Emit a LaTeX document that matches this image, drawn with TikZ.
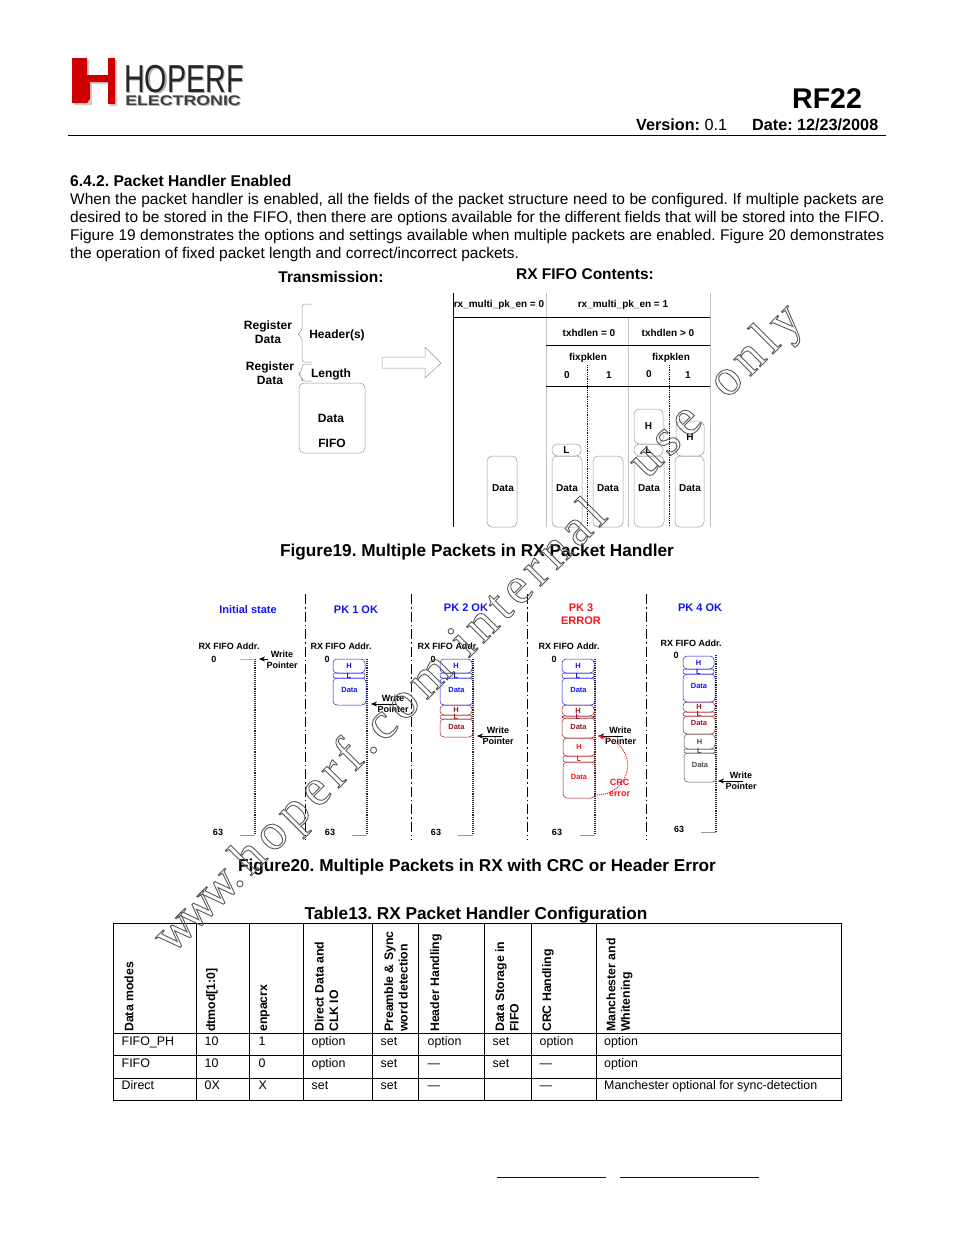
\documentclass[tikz,border=0pt]{standalone}
\usepackage{fontspec}
\setmainfont{Liberation Sans}
\newfontfamily\wmfont[LetterSpace=11]{Liberation Serif}
\usetikzlibrary{arrows.meta, positioning}
\definecolor{pkblue}{RGB}{20,20,240}
\definecolor{pkdark}{RGB}{160,20,30}
\definecolor{pkred}{RGB}{250,20,30}
\definecolor{boxgray}{RGB}{150,150,150}
\newcommand{\fsz}[2]{\fontsize{#1}{#2}\selectfont}

\begin{document}
\frenchspacing
\begin{tikzpicture}[
  x=1pt, y=-1pt,
  txt/.style={inner sep=0pt, anchor=base west},
  ctr/.style={inner sep=0pt, align=center},
  body/.style={txt, font=\fsz{15.5}{18}},
  bhead/.style={ctr, font=\fsz{15.5}{18}\bfseries},
  figcap/.style={ctr, font=\fsz{17.2}{19}\bfseries},
  fig/.style={ctr, font=\fsz{12}{14}\bfseries},
  tiny/.style={ctr, font=\fsz{10}{11}\bfseries},
  small/.style={ctr, font=\fsz{9}{11}\bfseries},
  stage/.style={ctr, font=\fsz{11}{13}\bfseries},
  lbl/.style={ctr, font=\fsz{7.5}{8}\bfseries},
  thd/.style={inner sep=0pt, anchor=west, rotate=90, align=left, font=\fsz{12.3}{14.5}\bfseries},
  cell/.style={txt, font=\fsz{12.4}{14}},
  gbox/.style={draw=boxgray, line width=0.5pt, rounded corners=5pt},
  pkt/.style={line width=0.5pt, rounded corners=4pt},
  lcell/.style={line width=0.5pt, rounded corners=2pt},
  brc/.style={draw=boxgray, line width=0.5pt, rounded corners=3pt},
  gline/.style={draw=boxgray!60, line width=0.6pt},
  tabline/.style={draw=black, line width=0.9pt},
  sepline/.style={draw=black, line width=1pt, dash pattern=on 10pt off 3pt on 1.5pt off 3pt},
  fifo/.style={draw=black!85, line width=1.1pt, densely dotted},
  fifobase/.style={draw=boxgray, line width=0.7pt},
  arr/.style={-{Stealth[length=6pt, width=5pt]}, line width=0.9pt}
]
\useasboundingbox (0,0) rectangle (954,1235);

% header
\fill[black!20] (74,60) -- (89,60) -- (89,77) -- (110,77) -- (110,60) -- (117,60) -- (117,106) -- (110,106) -- (110,84) -- (92,84) -- (92,105) -- (74,105) -- cycle;
\fill[red!80!black] (72,58) -- (87,58) -- (87,75) -- (108,75) -- (108,58) -- (115,58) -- (115,104) -- (108,104) -- (108,82) -- (90,82) -- (90,99) -- (87,103) -- (72,103) -- cycle;
\node[txt, font=\fsz{39}{40}, text=black!30, xscale=0.735] (hoperfs) at (125.5,93.5) {HOPERF};
\node[txt, font=\fsz{39}{40}, text=black!85, xscale=0.735] (hoperf) at (124,92) {HOPERF};
\node[txt, font=\fsz{14}{16}\bfseries, text=black!30, xscale=1.27] (electronics) at (126,106) {ELECTRONIC};
\node[txt, font=\fsz{14}{16}\bfseries, text=black!75, xscale=1.27] (electronic) at (125,105) {ELECTRONIC};
\node[txt, font=\fsz{28.5}{30}\bfseries] (rf) at (792,108) {RF22};
\node[txt, font=\fsz{16.2}{18}] (version) at (636,130) {\bfseries Version: \mdseries 0.1};
\node[txt, font=\fsz{16.2}{18}\bfseries] (date) at (752,130) {Date: 12/23/2008};
\draw[line width=0.8pt] (68,135.5) -- (886,135.5);

% text
\node[txt, font=\fsz{15.6}{18}\bfseries] (sec) at (70,186) {6.4.2. Packet Handler Enabled};
\node[body] (l1) at (70,204) {\makebox[814pt][s]{When the packet handler is enabled, all the fields of the packet structure need to be configured. If multiple packets are}};
\node[body] (l2) at (70,222) {\makebox[814pt][s]{desired to be stored in the FIFO, then there are options available for the different fields that will be stored into the FIFO.}};
\node[body] (l3) at (70,240) {\makebox[814pt][s]{Figure 19 demonstrates the options and settings available when multiple packets are enabled. Figure 20 demonstrates}};
\node[body] (l4) at (70,258) {the operation of fixed packet length and correct/incorrect packets.};

% figure 19, left
\node[bhead] (tx) at (331,277) {Transmission:};
\node[bhead] (rx) at (585,274) {RX FIFO Contents:};
\node[fig] (reg1) at (268,332) {Register\\Data};
\node[fig] (reg2) at (270,373) {Register\\Data};
\node[fig] (hdr) at (337,335.5) {Header(s)};
\node[fig] (len) at (331,374.5) {Length};
\draw[brc] (312,304) -- (302,304) -- (302,331) -- (297,334) -- (302,337) -- (302,362) -- (312,362);
\draw[brc] (312,364) -- (302,364) -- (302,371) -- (298,374) -- (302,377) -- (302,381) -- (312,381);
\draw[gbox] (299,383) rectangle (365,453);
\node[fig] (dat) at (331,418.5) {Data};
\node[fig] (ff) at (332,443.5) {FIFO};
\draw[draw=boxgray, line width=0.5pt] (382,357) -- (425,357) -- (425,347) -- (441,363) -- (425,378) -- (425,368) -- (382,368) -- cycle;

% figure 19, right
\draw[line width=0.8pt] (453,293) -- (453,527);
\draw[gline] (546,293) -- (546,527);
\draw[gline] (628,317) -- (628,527);
\draw[gline] (710,293) -- (710,527);
\draw[line width=0.7pt] (453,317) -- (710,317);
\draw[line width=0.7pt] (546,345) -- (710,345);
\draw[line width=0.7pt] (546,386) -- (710,386);
\draw[line width=0.8pt, densely dotted] (587,365) -- (587,527);
\draw[line width=0.8pt, densely dotted] (669,365) -- (669,527);
\node[tiny] (m0) at (499,304.5) {rx\_multi\_pk\_en = 0};
\node[tiny] (m1) at (623,304.5) {rx\_multi\_pk\_en = 1};
\node[tiny] (t0) at (589,333) {txhdlen = 0};
\node[tiny] (t1) at (668,333) {txhdlen > 0};
\node[tiny] (f0) at (588,357.5) {fixpklen};
\node[tiny] (f1) at (671,357.5) {fixpklen};
\node[tiny] (f00) at (567,375) {0};
\node[tiny] (f01) at (609,375) {1};
\node[tiny] (f10) at (649,374) {0};
\node[tiny] (f11) at (688,375) {1};
\draw[gbox] (487,456) rectangle (517,527);
\node[tiny] (d1) at (503,488) {Data};
\draw[gbox] (552,456) rectangle (582,527);
\node[tiny] (d2) at (567,488) {Data};
\draw[gbox] (552,444) rectangle node[tiny] (l2b) {L} (581,456);
\draw[gbox] (593,456) rectangle (623,527);
\node[tiny] (d3) at (608,488) {Data};
\draw[gbox] (634,456) rectangle (664,527);
\node[tiny] (d4) at (649,488) {Data};
\draw[gbox] (634,444) rectangle node[tiny] (l4b) {L} (663,456);
\draw[gbox] (634,409) rectangle node[tiny] (h4) {H} (663,444);
\draw[gbox] (675,456) rectangle (704,527);
\node[tiny] (d5) at (690,488) {Data};
\draw[gbox] (676,421) rectangle (704,456);
\node[tiny] (h5) at (690,437) {H};
\node[figcap] (cap19) at (477,552.5) {Figure19. Multiple Packets in RX Packet Handler};

% figure 20
\foreach \x in {305,411,527,646} {
  \draw[sepline] (\x,594) -- (\x,840);
}
\node[stage, text=pkblue] (s0) at (248,609.5) {Initial state};
\node[stage, text=pkblue] (s1) at (356,609.5) {PK 1 OK};
\node[stage, text=pkblue] (s2) at (466,607.5) {PK 2 OK};
\node[stage, text=pkred] (s3) at (581,614) {PK 3\\ERROR};
\node[stage, text=pkblue] (s4) at (700,607.5) {PK 4 OK};

% fifo columns
\foreach \n/\xa/\ya/\xb/\yb/\xc/\xd in {0/229/646/214/659/218/255, 1/341/646/327/659/330/367, 2/448/646/433/659/436/473, 3/569/646/554/659/557/595} {
  \node[small] (addr\n) at (\xa,\ya) {RX FIFO Addr.};
  \node[small] (zero\n) at (\xb,\yb) {0};
  \node[small] (last\n) at (\xc,832) {63};
  \draw[fifo] (\xd,659) -- (\xd,835);
  \draw[fifobase] (\xd-15,835) -- (\xd,835);
}
\draw[fifobase, draw=boxgray!70] (240,659) -- (255,659);
\node[small] (addr4) at (691,643) {RX FIFO Addr.};
\node[small] (zero4) at (676,655) {0};
\node[small] (last4) at (679,829) {63};
\draw[fifo] (716,655) -- (716,832);
\draw[fifobase] (701,832) -- (716,832);

% PK 1
\draw[pkt, pkblue] (333,659) rectangle node[lbl] (a1h) {H} (365,673);
\draw[lcell, pkblue] (333,673) rectangle node[lbl] (a1l) {L} (365,678);
\draw[pkt, pkblue] (333,678) rectangle node[lbl, yshift=2pt] (a1d) {Data} (366,705);
% PK 2
\draw[pkt, pkblue] (440,659) rectangle node[lbl] (b1h) {H} (472,673);
\draw[lcell, pkblue] (440,673) rectangle node[lbl] (b1l) {L} (472,678);
\draw[pkt, pkblue] (440,678) rectangle node[lbl, yshift=2pt] (b1d) {Data} (473,705);
\draw[pkt, pkdark] (440,705) rectangle node[lbl] (b2h) {H} (472,715);
\draw[lcell, pkdark] (440,715) rectangle node[lbl] (b2l) {L} (472,719);
\draw[pkt, pkdark] (440,719) rectangle node[lbl, yshift=1pt] (b2d) {Data} (473,737);
% PK 3
\draw[pkt, pkblue] (562,659) rectangle node[lbl] (c1h) {H} (594,673);
\draw[lcell, pkblue] (562,673) rectangle node[lbl] (c1l) {L} (594,678);
\draw[pkt, pkblue] (562,678) rectangle node[lbl, yshift=2pt] (c1d) {Data} (595,705);
\draw[pkt, pkdark] (562,705) rectangle node[lbl] (c2h) {H} (594,716);
\draw[lcell, pkdark] (562,716) rectangle node[lbl] (c2l) {L} (594,718);
\draw[pkt, pkdark] (562,718) rectangle node[lbl, yshift=1pt] (c2d) {Data} (595,738);
\draw[pkt, pkred!70!black] (563,738) rectangle node[lbl, text=pkred] (c3h) {H} (595,756);
\draw[lcell, pkred!70!black] (563,756) rectangle node[lbl, text=pkred] (c3l) {L} (595,762);
\draw[pkt, pkred!70!black] (563,762) rectangle node[lbl, text=pkred, yshift=3pt] (c3d) {Data} (595,798);
% PK 4
\draw[pkt, pkblue] (683,656) rectangle node[lbl] (e1h) {H} (714,669);
\draw[lcell, pkblue] (683,669) rectangle node[lbl] (e1l) {L} (714,674);
\draw[pkt, pkblue] (683,674) rectangle node[lbl, yshift=2pt] (e1d) {Data} (715,702);
\draw[pkt, pkdark] (683,702) rectangle node[lbl] (e2h) {H} (715,712);
\draw[lcell, pkdark] (683,712) rectangle node[lbl] (e2l) {L} (715,716);
\draw[pkt, pkdark] (683,716) rectangle node[lbl, yshift=2pt] (e2d) {Data} (715,734);
\draw[pkt, black!70] (684,734) rectangle node[lbl] (e3h) {H} (715,749);
\draw[lcell, black!70] (684,749) rectangle node[lbl] (e3l) {L} (715,753);
\draw[pkt, black!70] (684,753) rectangle node[lbl, yshift=3pt] (e3d) {Data} (716,782);

% write pointers
\node[small] (wp0) at (282,660) {Write\\Pointer};
\node[small] (wp1) at (393,703.5) {Write\\Pointer};
\node[small] (wp2) at (498,735.5) {Write\\Pointer};
\node[small] (wp3) at (620.5,735.5) {Write\\Pointer};
\node[small] (wp4) at (741,780.5) {Write\\Pointer};
\coordinate (q0) at (259,659);
\coordinate (q1) at (371,704);
\coordinate (q2) at (477,736);
\coordinate (q3) at (598,736);
\coordinate (q4) at (718,781);
\coordinate (p0) at (268,659);
\coordinate (p1) at (396,704);
\coordinate (p2) at (502,736);
\coordinate (p3) at (623,736);
\coordinate (p4) at (743,781);
\foreach \n in {0,...,4} {
  \draw[arr] (p\n) -- (q\n);
}
\node[small, text=pkred] (crc) at (619.5,787.5) {CRC\\error};
\coordinate (crcs) at (595,795);
\draw[-{Stealth[length=6pt, width=5pt]}, draw=pkred, densely dotted, line width=1pt] (crcs) .. controls (632,796) and (642,745) .. (q3);
\node[figcap] (cap20) at (477,867.5) {Figure20. Multiple Packets in RX with CRC or Header Error};

% table
\node[figcap] (cap13) at (476,915.5) {Table13. RX Packet Handler Configuration};
\draw[tabline] (113,923) rectangle (841.5,1100);
\foreach \x in {196,249.5,303.5,372.5,418.5,484.5,531.5,596.5} {
  \draw[tabline] (\x,923) -- (\x,1100);
}
\foreach \y in {1033,1055,1078} {
  \draw[tabline] (113,\y) -- (841.5,\y);
}
\node[thd] (c0) at (129,1032) {Data modes};
\node[thd] (c1) at (212,1032) {dtmod[1:0]};
\node[thd] (c2) at (265,1032) {enpacrx};
\node[thd] (c3) at (326.5,1032) {Direct Data and\\CLK IO};
\node[thd] (c4) at (396,1032) {Preamble \& Sync\\word detection};
\node[thd] (c5) at (436,1032) {Header Handling};
\node[thd] (c6) at (507,1032) {Data Storage in\\FIFO};
\node[thd] (c7) at (548,1032) {CRC Handling};
\node[thd] (c8) at (619.5,1032) {Manchester and\\Whitening};
\foreach \n/\x/\t in {a/121.5/FIFO\_PH, b/204.5/10, c/258.5/1, d/311.5/option, e/380.5/set, f/427.5/option, g/492.5/set, h/539.5/option, i/604/option} {
  \node[cell] (ra\n) at (\x,1045) {\t};
}
\foreach \n/\x/\t in {a/121.5/FIFO, b/204.5/10, c/258.5/0, d/311.5/option, e/380.5/set, f/427.5/---, g/492.5/set, h/539.5/---, i/604/option} {
  \node[cell] (rb\n) at (\x,1067) {\t};
}
\foreach \n/\x/\t in {a/121.5/Direct, b/204.5/0X, c/258.5/X, d/311.5/set, e/380.5/set, f/427.5/---, h/539.5/---, i/604/Manchester optional for sync-detection} {
  \node[cell] (rc\n) at (\x,1089) {\t};
}
\draw[line width=0.7pt, blue!50!black] (497,1177) -- (606,1177);
\draw[line width=0.7pt, blue!50!black] (620,1177) -- (759,1177);

% watermark
\node[inner sep=0pt, anchor=base west, rotate=45, text=black!65, font=\wmfont\fsz{52}{54}] (wm) at (172,955) {\special{pdf:code 1 Tr 0.9 w}w\kern-7pt w\kern-7pt w\kern-7pt .\kern6pt hoperf.com internal\hspace{35pt} use\hspace{14pt} only\special{pdf:code 0 Tr}};
\end{tikzpicture}
\end{document}
